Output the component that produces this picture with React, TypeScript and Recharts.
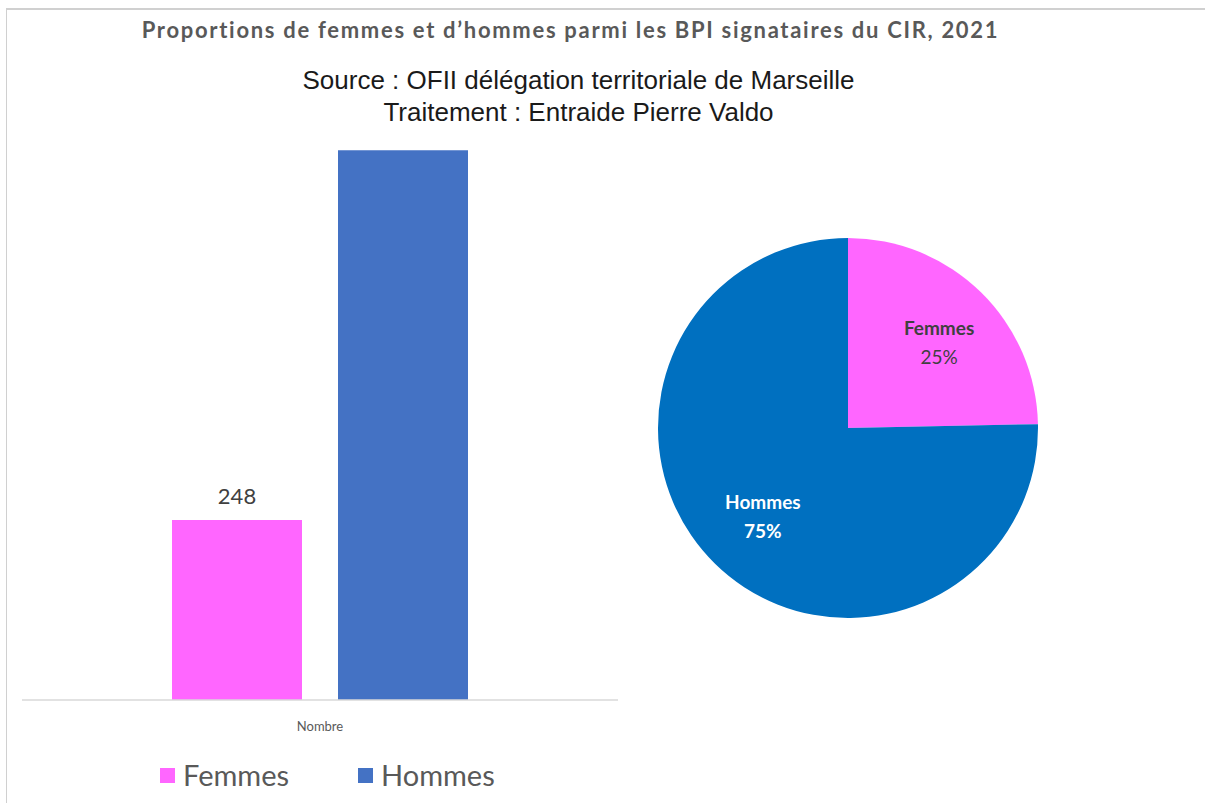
import { Bar, BarChart, LabelList, Pie, PieChart, Cell, XAxis, YAxis } from "recharts";

const groups = ["Nombre"];
const seriesNames = ["Femmes", "Hommes"];
const counts = [248, 757];
const barColors = ["#FF66FF", "#4472C4"];
const pieColors = ["#FF66FF", "#0070C0"];

const barData = groups.map((g) => ({
  name: g,
  Femmes: counts[0],
  Hommes: counts[1]
}));

const total = counts.reduce((a, b) => a + b, 0);
const pieData = seriesNames.map((n, i) => ({ name: n, value: counts[i] }));

const RAD = Math.PI / 180;

function PieLabel(props: any) {
  const { cx, cy, midAngle, outerRadius, name, value, index } = props;
  const r = outerRadius * 0.64;
  const x = cx + r * Math.cos(-midAngle * RAD) + (index === 0 ? 6 : 0);
  const y = cy + r * Math.sin(-midAngle * RAD);
  const pct = Math.round((value / total) * 100) + "%";
  const light = index === 1;
  const color = light ? "#ffffff" : "#404040";
  return (
    <text x={x} y={y} textAnchor="middle" fontFamily="Lato, 'Open Sans', sans-serif" fontSize={19} fill={color}>
      <tspan x={x} dy={-6} fontWeight="bold">{name}</tspan>
      <tspan x={x} dy={29} fontWeight={light ? "bold" : "normal"}>{pct}</tspan>
    </text>
  );
}

export default function App() {
  return (
    <div
      style={{
        position: "absolute",
        left: 0,
        top: 0,
        width: 1205,
        height: 803,
        background: "#ffffff",
        overflow: "hidden",
        fontFamily: "Lato, 'Open Sans', sans-serif"
      }}
    >
      <div style={{ position: "absolute", left: 6, top: 8, right: 0, height: 0, borderTop: "2px solid #d0d0d0" }} />
      <div style={{ position: "absolute", left: 6, top: 8, bottom: 0, width: 0, borderLeft: "1px solid #d0d0d0" }} />

      <div
        style={{
          position: "absolute",
          left: 0,
          top: 15,
          width: 1141,
          textAlign: "center",
          fontWeight: "bold",
          fontSize: 22,
          letterSpacing: 1.7,
          lineHeight: "30px",
          color: "#595959"
        }}
      >
        Proportions de femmes et d’hommes parmi les BPI signataires du CIR, 2021
      </div>
      <div
        style={{
          position: "absolute",
          left: 0,
          top: 64,
          width: 1157,
          textAlign: "center",
          fontFamily: "'Liberation Sans Narrow', 'Liberation Sans', Arial, sans-serif",
          fontSize: 26,
          lineHeight: "32px",
          color: "#1a1a1a"
        }}
      >
        Source : OFII délégation territoriale de Marseille
        <br />
        Traitement : Entraide Pierre Valdo
      </div>

      <div style={{ position: "absolute", left: 0, top: 0 }}>
        <BarChart
          width={640}
          height={760}
          data={barData}
          margin={{ top: 119, left: 22, right: 22, bottom: 30 }}
          barGap={36}
          barSize={130}
        >
          <XAxis
            dataKey="name"
            axisLine={{ stroke: "#d9d9d9", strokeWidth: 1.5 }}
            tickLine={false}
            tickMargin={16}
            tick={{ fontSize: 13, fill: "#595959", fontFamily: "Lato, 'Open Sans', sans-serif" }}
            height={30}
          />
          <YAxis hide domain={[0, 800]} />
          {seriesNames.map((s, i) => (
            <Bar key={s} dataKey={s} fill={barColors[i]} isAnimationActive={false}>
              {i === 0 && (
                <LabelList
                  dataKey={s}
                  position="top"
                  offset={16}
                  fill="#404040"
                  fontSize={22}
                  fontFamily="Lato, 'Open Sans', sans-serif"
                />
              )}
            </Bar>
          ))}
        </BarChart>
      </div>

      <div style={{ position: "absolute", left: 638, top: 218 }}>
        <PieChart width={420} height={420}>
          <Pie
            data={pieData}
            dataKey="value"
            nameKey="name"
            cx="50%"
            cy="50%"
            outerRadius={190}
            startAngle={90}
            endAngle={-270}
            stroke="none"
            labelLine={false}
            label={PieLabel}
            isAnimationActive={false}
          >
            {pieData.map((d, i) => (
              <Cell key={d.name} fill={pieColors[i]} />
            ))}
          </Pie>
        </PieChart>
      </div>

      <div style={{ position: "absolute", left: 160, top: 759, display: "flex", alignItems: "center" }}>
        {seriesNames.map((s, i) => (
          <div key={s} style={{ display: "flex", alignItems: "center", marginRight: i === 0 ? 69 : 0 }}>
            <div style={{ width: 15, height: 15, background: barColors[i], marginRight: 8 }} />
            <span style={{ fontSize: 29, color: "#595959", lineHeight: "32px" }}>{s}</span>
          </div>
        ))}
      </div>
    </div>
  );
}
